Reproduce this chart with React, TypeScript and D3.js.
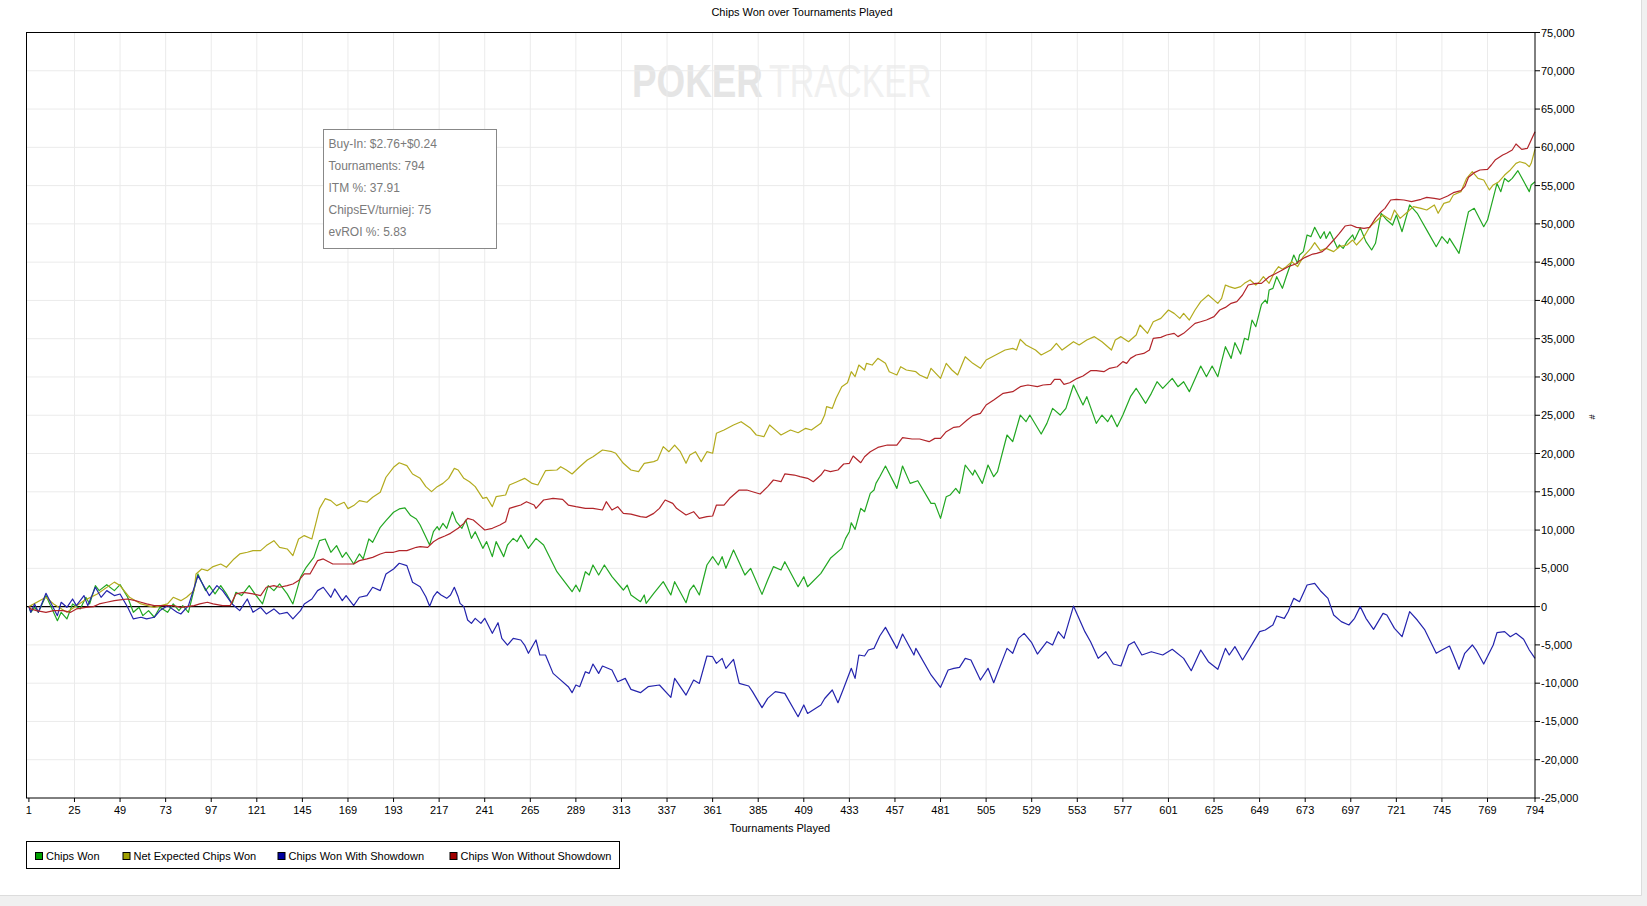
import React from "react";
import * as d3 from "d3";

const W = 1647;
const H = 906;

const title = "Chips Won over Tournaments Played";
const xLabel = "Tournaments Played";
const yLabel = "#";
const watermark = ["POKER", "TRACKER"];
const seriesNames = ["Chips Won", "Net Expected Chips Won", "Chips Won With Showdown", "Chips Won Without Showdown"];
const infoLines = ["Buy-In: $2.76+$0.24", "Tournaments: 794", "ITM %: 37.91", "ChipsEV/turniej: 75", "evROI %: 5.83"];

const xTicks = [1, 25, 49, 73, 97, 121, 145, 169, 193, 217, 241, 265, 289, 313, 337, 361, 385, 409, 433, 457, 481, 505, 529, 553, 577, 601, 625, 649, 673, 697, 721, 745, 769, 794];
const yTicks = [-25000, -20000, -15000, -10000, -5000, 0, 5000, 10000, 15000, 20000, 25000, 30000, 35000, 40000, 45000, 50000, 55000, 60000, 65000, 70000, 75000];

// [tournament, chips]
const chipsWon: [number, number][] = [
  [1,0],[2,-740],[4,-90],[6,-740],[10,1440],[12,350],[16,-1830],[18,-740],[21,-1610],[24,350],[28,-300],[31,1220],[33,350],[36,2750],[38,2090],[42,2870],[46,2090],[49,2870],[53,1220],[56,-740],[59,-90],[61,-1180],[64,-520],[67,-1390],[70,-90],[74,-740],[77,350],[80,-520],[82,130],[85,-740],[90,4270],[94,2090],[96,2750],[99,1660],[102,2750],[105,1660],[108,350],[110,1870],[113,1440],[117,2750],[120,1660],[124,350],[127,2750],[130,2090],[133,2960],[137,1660],[140,350],[144,3830],[147,5140],[151,6440],[154,8620],[157,8840],[160,7100],[163,7970],[166,6440],[168,7100],[172,5570],[175,6880],[177,6230],[180,8840],[182,8400],[186,10360],[189,11240],[193,12330],[196,12760],[199,12890],[202,11890],[205,11450],[207,10660],[212,8050],[214,9790],[216,10450],[217,10010],[219,10880],[221,10230],[224,12400],[226,11100],[229,10230],[231,11310],[234,8920],[236,9790],[240,7610],[242,8490],[245,6530],[247,8490],[251,6530],[253,8050],[256,8920],[258,8490],[260,9350],[264,7610],[268,8920],[272,8050],[279,4560],[287,1950],[289,2820],[291,1950],[294,4560],[296,4130],[298,5440],[301,4130],[304,5440],[308,3910],[314,2170],[316,2820],[318,1520],[323,650],[325,1520],[326,430],[330,1730],[335,3260],[339,1520],[341,3260],[347,510],[349,2170],[351,2820],[354,1520],[358,5440],[361,6530],[364,5440],[366,6530],[368,5000],[372,7400],[378,4130],[381,5000],[387,1600],[390,3480],[393,5220],[397,4780],[399,5870],[406,2600],[409,3910],[411,2600],[418,4350],[423,6310],
  [429,7610],[431,8920],[433,9790],[434,10960],[436,10090],[439,12840],[441,12400],[444,14800],[446,15230],[447,16100],[449,16970],[452,18370],[458,15450],[461,18370],[465,16100],[469,16450],[476,13490],[478,13490],[481,11530],[484,14360],[486,14580],[489,15450],[491,14800],[494,18500],[498,17190],[499,17840],[503,16100],[506,18500],[509,16970],[511,17630],[516,22420],[519,21550],[520,22420],[523,25030],[526,24160],[528,25030],[534,22550],[537,23940],[540,25900],[544,25030],[547,25900],[551,28950],[556,26340],[558,27430],[563,23940],[566,25030],[569,24160],[571,25030],[574,23510],[577,25030],[581,27430],[584,28520],[589,26560],[592,27860],[595,29380],[598,28520],[603,29820],[606,28730],[609,29380],[612,28080],[618,31430],[621,30040],[624,31430],[627,30040],[631,33960],[634,32430],
  [636,34480],[639,33000],[641,35050],[643,34840],[645,37440],[647,36570],[650,39490],[652,40050],[653,39620],[654,41360],[656,41580],[658,43100],[661,41580],[663,43100],[667,45930],[669,44840],[670,45930],[672,46370],[674,48550],[676,48330],[678,49550],[681,48110],[683,48980],[684,48110],[686,48980],[690,46800],[691,47240],[693,46800],[695,47680],[698,48550],[699,47890],[702,49500],[705,47680],[708,46590],[710,47460],[713,51380],[716,50500],[719,49850],[721,51160],[724,48980],[728,52470],[732,51380],[734,50500],[738,48760],[742,47020],[745,48330],[748,47460],[749,48110],[754,46150],[759,51590],[762,52030],[767,49630],[769,50500],[774,55290],[776,54210],[778,55950],[780,55510],[782,55950],[785,56950],[791,54210],[792,55080],[794,55510]
];

const netExpected: [number, number][] = [
  [1,0],[10,1220],[14,350],[21,-740],[30,780],[37,1660],[46,3200],[49,2750],[54,1220],[60,350],[67,-90],[74,350],[77,1220],[81,780],[84,1220],[88,2100],[89,4270],[92,4920],[95,4700],[98,5230],[102,5570],[105,5140],[109,6230],[112,6880],[116,7100],[119,7320],[123,7320],[126,7970],[130,8620],[133,7750],[137,7530],[140,6660],[143,8840],[146,9280],[150,8840],[152,10800],[154,12800],[157,14100],[160,13850],[163,13200],[167,13630],[169,12800],[172,13200],[175,13850],[179,13630],[182,14280],[186,14940],[189,16900],[193,18200],[196,18790],[200,18420],[203,17330],[207,16760],
  [210,15670],[213,15020],[216,15670],[219,16100],[222,16760],[225,18060],[227,17850],[230,16760],[233,16320],[236,15670],[240,14150],[242,14280],[245,13060],[247,14360],[252,14580],[254,15890],[258,16320],[262,16760],[266,16100],[269,15890],[273,17760],[279,17850],[281,18280],[284,17850],[287,17330],[291,18280],[295,19150],[298,19590],[303,20460],[308,20240],[310,20030],[314,18720],[318,17850],[322,17630],[325,18720],[330,18940],[332,19150],[335,20900],[338,20240],[341,21110],[344,20240],[347,18720],[349,19800],[352,20240],[355,18940],[358,20240],[361,20030],[363,22640],[367,23070],[372,23730],[376,24160],[381,23290],[384,22420],[388,22200],[391,23730],[395,22860],[397,22420],[402,23070],[406,22720],[410,23290],[413,23070],[418,23940],[420,25030],
  [421,26120],[424,25900],[426,27210],[429,28730],[432,29250],[434,30690],[436,30040],[438,31560],[441,30910],[442,31780],[445,31560],[448,32440],[452,31780],[454,30690],[458,30260],[460,31340],[463,30910],[468,30690],[470,30260],[474,29820],[476,31130],[481,29820],[484,31780],[487,30910],[490,30260],[494,32650],[498,31780],[502,31130],[505,32220],[510,32870],[515,33520],[519,33740],[521,33520],[523,34920],[526,34180],[531,33520],[534,32870],[539,33520],[542,34390],[545,33520],[551,34610],[554,34180],[558,34830],[562,35270],[566,34610],[571,33520],[573,34830],[576,35270],[580,34610],[584,35480],[586,36790],[590,35700],[593,37220],[597,37660],[601,38750],[604,38310],[607,37660],[609,38310],[612,37440],[615,38750],[618,39840],[622,40710],[627,39620],
  [629,40270],[631,42010],[633,41800],[636,41580],[639,41800],[641,42230],[644,42670],[647,42010],[649,42450],[651,43100],[654,42230],[657,43750],[659,44410],[661,44060],[663,44410],[666,45060],[669,44410],[672,45720],[676,46800],[678,47540],[681,46500],[684,46800],[688,46370],[691,47020],[695,47240],[698,47890],[700,47240],[704,48330],[707,49630],[711,50500],[714,51160],[718,50500],[720,51810],[723,50720],[727,51590],[730,52250],[734,52030],[737,51810],[741,52470],[743,51380],[746,52680],[749,52900],[751,53770],[755,54210],[758,55950],[761,56820],[764,55950],[767,55730],[770,54430],[772,55080],[775,55510],[778,56380],[781,57040],[784,57910],[786,58120],[789,57910],[791,57470],[792,57910],[794,59740]
];

const withShowdown: [number, number][] = [
  [1,0],[2,-740],[4,350],[6,-740],[10,1740],[12,780],[16,-1180],[18,570],[21,-90],[24,1000],[26,130],[30,1440],[32,130],[36,2530],[39,1220],[42,2090],[46,1440],[49,1650],[53,-90],[56,-1610],[60,-1390],[63,-1610],[67,-1390],[70,-520],[74,130],[79,-740],[81,-960],[85,130],[90,4050],[94,2310],[96,1440],[100,2750],[103,2090],[108,350],[112,-520],[116,1000],[119,-740],[123,-90],[126,-960],[130,-300],[133,-960],[137,-740],[140,-1610],[144,-520],[146,350],[150,1000],[153,2090],[156,2530],[160,1220],[162,2310],[166,780],[168,1440],[172,130],[175,1220],[179,1440],[182,2530],[186,2090],[189,4270],[193,4920],[196,5660],[200,5360],[203,3180],[207,2600],
  [210,1300],[212,50],[214,1300],[216,1950],[218,1520],[221,1080],[223,1520],[225,2520],[227,1300],[228,430],[230,0],[232,-1750],[234,-2190],[236,-1530],[239,-2190],[241,-1530],[245,-3490],[248,-2100],[250,-4150],[253,-5020],[256,-4150],[260,-4360],[262,-5020],[264,-6100],[268,-4360],[270,-6320],[273,-6320],[277,-8720],[280,-9370],[285,-10460],[287,-11240],[289,-10240],[291,-10460],[294,-8500],[296,-8720],[298,-7500],[301,-8720],[303,-7760],[308,-8280],[311,-9810],[315,-9370],[318,-10810],[323,-11240],[327,-10460],[333,-10240],[339,-11850],[341,-9370],[347,-11550],[351,-9590],[354,-10030],[358,-6450],[361,-6540],[363,-7410],[366,-6760],[368,-8070],[372,-6890],[375,-10030],[380,-10370],[382,-11110],[387,-13200],[390,-11980],[394,-11110],[399,-11330],[406,-14380],[409,-12850],[411,-13950],[418,-12850],
  [420,-12000],[424,-10890],[427,-12550],[430,-10670],[434,-8060],[436,-9370],[438,-6320],[441,-6450],[443,-5670],[446,-5450],[449,-3840],[452,-2710],[458,-5450],[461,-3580],[467,-6320],[468,-5450],[476,-8930],[481,-10540],[485,-8280],[488,-8060],[491,-7930],[494,-6760],[497,-6970],[502,-9590],[506,-8060],[509,-9940],[516,-5450],[519,-6100],[522,-4150],[525,-3490],[529,-4710],[532,-6190],[537,-4580],[540,-5010],[543,-3270],[546,-4150],[551,70],[557,-3270],[560,-4580],[564,-6760],[568,-5890],[572,-7500],[576,-7760],[580,-5010],[583,-4580],[587,-6320],[592,-5890],[598,-6320],[603,-5580],[609,-6760],[613,-8370],[618,-5670],[622,-7190],[627,-8190],[631,-5450],[633,-6320],[636,-5230],[640,-6970],[645,-4930],[649,-3270],[652,-3050],[656,-2400],[658,-1220],[662,-1530],[664,-660],[667,1080],[670,650],[674,2820],[678,3040],[681,2080],[685,1080],[688,-1090],[692,-1960],[696,-2400],[699,-1530],[702,0],[705,-1530],[709,-2970],[714,-880],[716,-1090],[720,-2840],[724,-3930],[728,-660],[732,-1750],[736,-3050],[742,-6100],[745,-5670],[749,-5150],[751,-6320],[754,-8190],[757,-6100],[761,-5010],[763,-5670],[767,-7500],[772,-5010],[774,-3400],[778,-3270],[781,-3930],[784,-3490],[788,-4270],[791,-5670],[794,-6760]
];

const withoutShowdown: [number, number][] = [
  [1,0],[2,-300],[5,-520],[10,-740],[14,-520],[19,-520],[23,-740],[26,-300],[31,-90],[35,0],[38,350],[42,570],[46,780],[49,870],[53,1000],[57,780],[60,570],[63,350],[67,130],[72,130],[77,130],[81,-90],[84,0],[88,130],[91,350],[95,570],[98,350],[103,130],[107,130],[110,1660],[114,1870],[119,1660],[123,1440],[126,2530],[130,2750],[133,2530],[137,2750],[140,2960],[143,3400],[146,4270],[149,4270],[153,6010],[156,6230],[161,5570],[168,5570],[172,5570],[175,6010],[179,6230],[182,6440],[186,6880],[189,7100],[193,7100],[196,7320],[200,7320],[205,7750],
  [207,7830],[211,7740],[214,8480],[217,8920],[220,9220],[223,9570],[227,10230],[230,10880],[232,11530],[235,11310],[239,10450],[241,10010],[245,10230],[249,10660],[252,11090],[254,12840],[257,13060],[260,13270],[263,13710],[267,13270],[268,12840],[272,13930],[277,14150],[282,14010],[285,13270],[289,13060],[294,12840],[298,12840],[303,12620],[305,13710],[308,12620],[311,13060],[314,12180],[318,12090],[323,11750],[326,11660],[330,12180],[333,12840],[336,13930],[340,13490],[342,12840],[347,11970],[351,12400],[354,11530],[358,11750],[361,11840],[363,13270],[367,13270],[370,14150],[375,15230],[379,15230],[382,15010],[386,14710],[390,15670],[393,16540],[397,16320],[399,17330],[404,17190],[407,16980],[411,16760],[414,16320],[418,17190],[420,17850],[423,17630],
  [427,17850],[430,18630],[433,18720],[435,19670],[439,18800],[441,19580],[444,20240],[448,20800],[453,21110],[458,21110],[461,22070],[466,21900],[470,21900],[475,21550],[478,21980],[481,21980],[484,22850],[488,23420],[491,23510],[495,24380],[498,24950],[502,25250],[505,26340],[509,26990],[514,27860],[519,28080],[523,28730],[527,28950],[532,28730],[535,28950],[539,29040],[541,29690],[544,29690],[546,29040],[549,29250],[553,29820],[556,30130],[560,30820],[563,30820],[567,30690],[570,31130],[574,31340],[577,32000],[579,31780],[581,32430],[584,32870],[588,33080],[591,33520],[593,35050],[597,35180],[600,35480],[604,35700],[606,35270],[609,35700],[612,36350],[615,37000],[618,37220],[621,37440],[625,37880],[628,38750],[631,39090],
  [634,39620],[637,39840],[640,40710],[643,42010],[647,42230],[650,42230],[654,43100],[657,43450],[661,43970],[664,44410],[668,44760],[670,45190],[673,45630],[677,46060],[679,46150],[682,46370],[684,46800],[688,47890],[691,48760],[694,49720],[697,49850],[700,49550],[704,49420],[707,49550],[710,50720],[713,51590],[715,52030],[718,53120],[721,53210],[725,53120],[729,52900],[734,53210],[737,53470],[741,53340],[744,53210],[748,53640],[751,54080],[755,54340],[757,54860],[759,56080],[762,56690],[765,57040],[769,57120],[771,57690],[773,58340],[777,58990],[779,59220],[782,59650],[784,60440],[787,59740],[790,59870],[792,60960],[794,62050]
];

const lineColors = ["#22a722", "#b3ab1e", "#2424ad", "#b2252a"];
const legendColors = ["#00a000", "#a0a000", "#0000a0", "#a00000"];

const FONT = "'Liberation Sans', Arial, sans-serif";

export default function App() {
  const left = 26.5, right = 1535, top = 32.5, bottom = 798;
  const x = d3.scaleLinear().domain([0, 794]).range([27, right]);
  const y = d3.scaleLinear().domain([-25000, 75000]).range([bottom, top]);
  const line = d3.line<[number, number]>().x((d) => x(d[0])).y((d) => y(d[1]));
  const fmt = (v: number) => d3.format(",")(v).replace("\u2212", "-");
  const series = [chipsWon, netExpected, withShowdown, withoutShowdown];

  const legendItemX = [35, 122.5, 277.5, 449.5];

  return (
    <svg width={W} height={H} style={{ position: "absolute", left: 0, top: 0, background: "#fff" }} fontFamily={FONT}>
      <rect x={0} y={0} width={W} height={H} fill="#ffffff" />
      <rect x={1641} y={0} width={W - 1641} height={H} fill="#f0f0f0" />
      <rect x={0} y={895} width={W} height={H - 895} fill="#f0f0f0" />
      <line x1={1641.5} y1={0} x2={1641.5} y2={895.5} stroke="#dcdcdc" />
      <line x1={0} y1={895.5} x2={1641.5} y2={895.5} stroke="#dcdcdc" />

      <text x={802} y={15.5} fontSize={11} textAnchor="middle" fill="#000">{title}</text>

      {/* watermark */}
      <text transform="translate(632,97) scale(0.8,1)" fontSize={46} fontWeight="bold" fill="#e5e5e5">{watermark[0]}</text>
      <text transform="translate(769,97) scale(0.74,1)" fontSize={46} fill="#f0f0f0">{watermark[1]}</text>

      {/* grid */}
      {xTicks.filter((t) => t !== 1 && t !== 794).map((t) => (
        <line key={"gx" + t} x1={x(t)} x2={x(t)} y1={top} y2={bottom} stroke="#ebebeb" strokeWidth={1} />
      ))}
      {yTicks.filter((v) => v !== 0 && v !== -25000 && v !== 75000).map((v) => (
        <line key={"gy" + v} x1={left} x2={right} y1={y(v)} y2={y(v)} stroke="#ebebeb" strokeWidth={1} />
      ))}

      {/* zero line */}
      <line x1={left} x2={right} y1={y(0)} y2={y(0)} stroke="#000" strokeWidth={1.2} />

      {/* series */}
      {series.map((s, i) => (
        <path key={"s" + i} d={line(s) || ""} fill="none" stroke={lineColors[i]} strokeWidth={1.2} strokeLinejoin="round" />
      ))}

      {/* info box */}
      <rect x={323.5} y={129.5} width={173} height={119} fill="#ffffff" stroke="#888888" strokeWidth={1} />
      {infoLines.map((t, i) => (
        <text key={"info" + i} x={328.5} y={148 + i * 21.9} fontSize={12} fill="#7a7a7a">{t}</text>
      ))}

      {/* frame */}
      <rect x={left} y={top} width={right - left} height={bottom - top} fill="none" stroke="#000" strokeWidth={1} />

      {/* y axis (right) */}
      {yTicks.map((v) => (
        <g key={"yt" + v}>
          <line x1={right} x2={right + 5} y1={y(v)} y2={y(v)} stroke="#000" />
          <text x={right + 6} y={y(v) + 4} fontSize={11} fill="#000">{fmt(v)}</text>
        </g>
      ))}
      <text transform={`translate(1589,417) rotate(90)`} fontSize={9} textAnchor="middle" fill="#000">{yLabel}</text>

      {/* x axis */}
      {xTicks.map((t) => (
        <g key={"xt" + t}>
          <line x1={x(t)} x2={x(t)} y1={bottom} y2={bottom + 4} stroke="#000" />
          <text x={x(t)} y={814} fontSize={11} textAnchor="middle" fill="#000">{t}</text>
        </g>
      ))}
      <text x={780} y={832} fontSize={11} textAnchor="middle" fill="#000">{xLabel}</text>

      {/* legend */}
      <rect x={26.5} y={841.5} width={593} height={27} fill="#ffffff" stroke="#000" strokeWidth={1} />
      {seriesNames.map((n, i) => (
        <g key={"lg" + i}>
          <rect x={legendItemX[i] + 0.5} y={852.5} width={7} height={7} fill={legendColors[i]} stroke="#000" strokeWidth={1} />
          <text x={legendItemX[i] + 11} y={859.5} fontSize={11} fill="#000">{n}</text>
        </g>
      ))}
    </svg>
  );
}
